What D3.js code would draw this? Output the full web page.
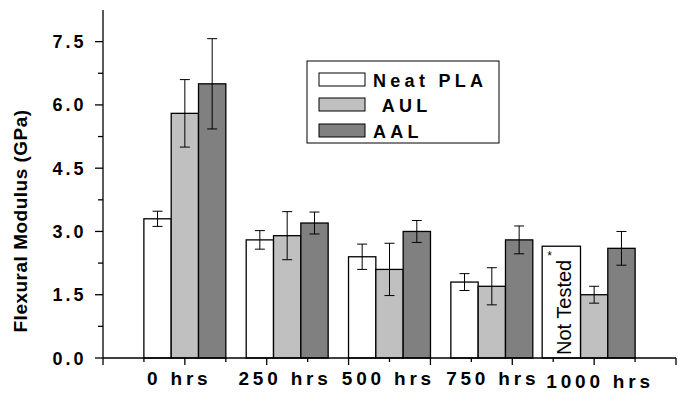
<!DOCTYPE html>
<html><head><meta charset="utf-8">
<script src="https://cdn.jsdelivr.net/npm/d3@7"></script>
<style>
html,body{margin:0;padding:0;background:#fff;}
svg{display:block;font-family:"Liberation Sans",Arial,sans-serif;}
</style></head>
<body>
<svg id="c" width="678" height="394"></svg>
<script>
const categories = ["0 hrs","250 hrs","500 hrs","750 hrs","1000 hrs"];
const seriesNames = ["Neat PLA","AUL","AAL"];
const neatPLA    = [3.3, 2.8, 2.4, 1.8, null];
const neatPLAErr = [0.18, 0.22, 0.3, 0.2, null];
const aul        = [5.8, 2.9, 2.1, 1.7, 1.5];
const aulErr     = [0.8, 0.57, 0.62, 0.44, 0.2];
const aal        = [6.5, 3.2, 3.0, 2.8, 2.6];
const aalErr     = [1.07, 0.26, 0.26, 0.33, 0.4];
const yTicks = [0, 1.5, 3.0, 4.5, 6.0, 7.5];
const yTickLabels = ["0.0","1.5","3.0","4.5","6.0","7.5"];
const notTestedValue = 2.65;

const colors = ["#ffffff","#c0c0c0","#808080"];
const values = [neatPLA, aul, aal];
const errs = [neatPLAErr, aulErr, aalErr];

const svg = d3.select("#c");
const y = d3.scaleLinear().domain([0, 8.25]).range([358, 10]);
const x = d3.scaleLinear().domain([-0.8, 4.8]).range([103, 676]);
const bw = 0.267; // bar width in category units
const px = v => x(v) - x(0);

// bars
const bars = [];
values.forEach((arr, s) => arr.forEach((v, i) => {
  if (v != null) bars.push({s, i, v, e: errs[s][i]});
}));
svg.append("g").selectAll("rect").data(bars).join("rect")
  .attr("x", d => x(d.i + (d.s - 1.5) * bw))
  .attr("width", px(bw))
  .attr("y", d => y(d.v))
  .attr("height", d => y(0) - y(d.v))
  .attr("fill", d => colors[d.s])
  .attr("stroke", "#000").attr("stroke-width", 1.3);

// error bars
const eg = svg.append("g").attr("stroke", "#000").attr("stroke-width", 1);
bars.forEach(d => {
  const cx = x(d.i + (d.s - 1) * bw);
  eg.append("line").attr("x1", cx).attr("x2", cx).attr("y1", y(d.v + d.e)).attr("y2", y(d.v - d.e));
  eg.append("line").attr("x1", cx - 5).attr("x2", cx + 5).attr("y1", y(d.v + d.e)).attr("y2", y(d.v + d.e));
  eg.append("line").attr("x1", cx - 5).attr("x2", cx + 5).attr("y1", y(d.v - d.e)).attr("y2", y(d.v - d.e));
});

// Not tested box
const ntIdx = neatPLA.findIndex(v => v == null);
const ntX0 = x(ntIdx - 1.5 * bw) - 11, ntX1 = x(ntIdx - 0.5 * bw);
svg.append("rect").attr("x", ntX0).attr("y", y(notTestedValue))
  .attr("width", ntX1 - ntX0).attr("height", y(0) - y(notTestedValue))
  .attr("fill", "#fff").attr("stroke", "#000").attr("stroke-width", 1.3);
svg.append("text").attr("transform", `translate(${ntX0 + 29},${y(0) - 3}) rotate(-90)`)
  .attr("font-size", 20).text("Not Tested");
svg.append("text").attr("x", ntX0 + 5).attr("y", y(notTestedValue) + 14)
  .attr("font-size", 12).text("*");

// y axis
const ya = svg.append("g").attr("stroke", "#000").attr("stroke-width", 1.3);
ya.append("line").attr("x1", x(-0.8)).attr("x2", x(-0.8)).attr("y1", y(8.25)).attr("y2", y(0));
d3.range(0, 8.25, 0.75).forEach((t, k) => {
  const len = k % 2 === 0 ? 8 : 5;
  ya.append("line").attr("x1", x(-0.8) - len).attr("x2", x(-0.8)).attr("y1", y(t)).attr("y2", y(t));
});
svg.append("g").selectAll("text").data(yTicks).join("text")
  .attr("x", 86.5).attr("y", d => y(d) + 6.5).attr("text-anchor", "end")
  .attr("font-size", 18).attr("font-weight", "bold").attr("letter-spacing", 3)
  .text((d, i) => yTickLabels[i]);
svg.append("text").attr("transform", `translate(27,${y(3.25)}) rotate(-90)`)
  .attr("text-anchor", "middle").attr("font-size", 19).attr("font-weight", "bold")
  .attr("letter-spacing", 0.5).text("Flexural Modulus (GPa)");

// x axis
const xa = svg.append("g").attr("stroke", "#000").attr("stroke-width", 1.3);
xa.append("line").attr("x1", x(-0.8)).attr("x2", x(4.8)).attr("y1", y(0)).attr("y2", y(0));
d3.range(-0.8, 4.81, 0.4).forEach((t, k) => {
  const len = k % 2 === 0 ? 7 : 4;
  xa.append("line").attr("x1", x(t)).attr("x2", x(t)).attr("y1", y(0)).attr("y2", y(0) + len);
});
const labelNudge = [-7.5, -4, -3, -1, 4];
svg.append("g").selectAll("text").data(categories).join("text")
  .attr("x", (d, i) => x(i) + labelNudge[i] + 1.9).attr("y", (d, i) => i === 4 ? 387.5 : 385)
  .attr("text-anchor", "middle")
  .attr("font-size", 19).attr("font-weight", "bold").attr("letter-spacing", 3.8)
  .text(d => d);

// legend
const lg = svg.append("g");
lg.append("rect").attr("x", 307).attr("y", 61).attr("width", 192).attr("height", 82)
  .attr("fill", "#fff").attr("stroke", "#000").attr("stroke-width", 1);
const legendLabels = ["Neat PLA", " AUL", "AAL"];
const rowY = [73, 98, 124];
seriesNames.forEach((n, s) => {
  lg.append("rect").attr("x", 319).attr("y", rowY[s]).attr("width", 46).attr("height", 13)
    .attr("fill", colors[s]).attr("stroke", "#000").attr("stroke-width", 1);
  lg.append("text").attr("x", 373).attr("y", rowY[s] + 13.5).attr("font-size", 18)
    .attr("font-weight", "bold").attr("letter-spacing", 4.3)
    .style("white-space", "pre").text(legendLabels[s]);
});
</script>
</body></html>
